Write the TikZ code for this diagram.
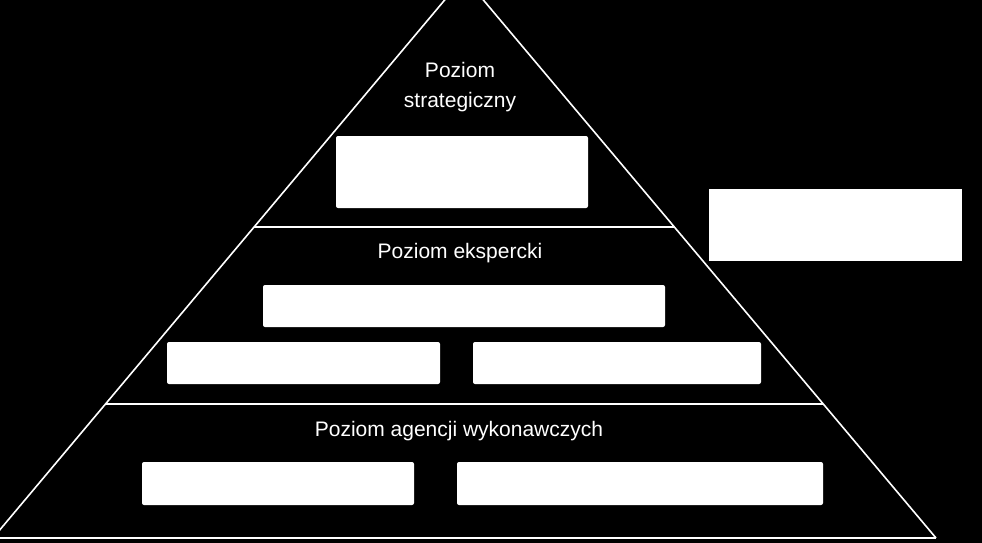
\documentclass[tikz,border=0pt]{standalone}
\usepackage{fontspec}
\setmainfont{Liberation Sans}
\usetikzlibrary{calc}

\tikzset{
  tier/.style={draw=white, line width=1.6pt},
  card/.style={fill=white, draw=none, rounded corners=2pt, inner sep=0pt},
  caption/.style={text=white, font=\fontsize{21}{30}\selectfont, align=center, inner sep=0pt}
}

\begin{document}
\begin{tikzpicture}[x=1pt, y=-1pt]
\fill[black] (0,0) rectangle (982,543);
\useasboundingbox (0,0) rectangle (982,543);
% pyramid outline
\coordinate (apex) at (464,-23);
\coordinate (lb) at (-7,538);
\coordinate (rb) at (936,538);
\draw[tier] (lb) -- (apex) -- (rb);
\draw[tier] ($(apex)!0.4456!(lb)$) -- ($(apex)!0.4456!(rb)$);
\draw[tier] ($(apex)!0.761!(lb)$) -- ($(apex)!0.761!(rb)$);
\draw[tier] (lb) -- (rb);
% levels
\node[caption] (strategic) at (460,87) {Poziom\\strategiczny};
\node[caption] (expert) at (460,253) {Poziom ekspercki};
\node[caption] (agency) at (459,431) {Poziom agencji wykonawczych};
% boxes
\foreach \name/\x/\y/\w/\h in {strat/462/172/252/72, eksA/464/306/402/42,
  eksB/303.5/363/273/42, eksC/617/363/288/42, agA/278/483.5/272/43, agB/640/483.5/366/43}{
  \node[card, minimum width=\w pt, minimum height=\h pt] (\name) at (\x,\y) {};
}
\node[card, rounded corners=0pt, minimum width=253pt, minimum height=72pt] (side) at (835.5,225) {};
\end{tikzpicture}
\end{document}
